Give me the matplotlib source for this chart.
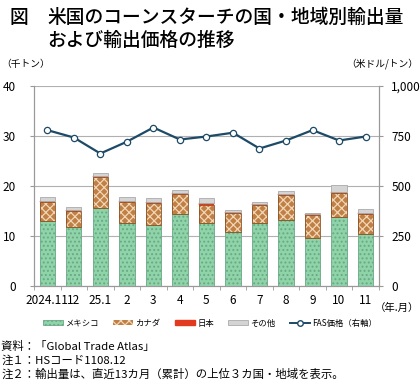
import matplotlib.pyplot as plt
import numpy as np
from matplotlib.lines import Line2D
from matplotlib.patches import Patch

plt.rcParams['font.family'] = ['Noto Sans CJK JP', 'DejaVu Sans']
plt.rcParams['hatch.linewidth'] = 0.9

months = ['2024.11', '12', '25.1', '2', '3', '4', '5', '6', '7', '8', '9', '10', '11']
mexico = [13.1, 11.9, 15.7, 12.7, 12.2, 14.5, 12.7, 10.8, 12.6, 13.3, 9.7, 13.9, 10.4]
canada = [3.8, 3.2, 6.2, 4.2, 4.5, 4.0, 3.6, 3.9, 3.7, 5.0, 4.5, 4.8, 4.1]
japan = [0.1, 0.1, 0.2, 0.1, 0.2, 0.1, 0.3, 0.2, 0.2, 0.2, 0.3, 0.1, 0.1]
other = [0.9, 0.7, 0.5, 0.8, 0.8, 0.7, 1.0, 0.4, 0.4, 0.6, 0.2, 1.5, 0.8]
fas_price = [780, 743, 663, 722, 793, 733, 748, 767, 688, 728, 780, 728, 748]

x = np.arange(len(months))
w = 0.58

fig = plt.figure(figsize=(4.2, 3.81), dpi=100)
ax = fig.add_axes([0.081, 0.249, 0.821, 0.525])
ax2 = ax.twinx()

m = np.array(mexico)
c = np.array(canada)
j = np.array(japan)
o = np.array(other)

ax.bar(x, m, w, color='#8fd3a8', edgecolor='#6aa886', lw=0.6, hatch='....', zorder=3)
# canada: checker look = light hatch on brown, then dark outline on top
ax.bar(x, c, w, bottom=m, color='#c07f45', edgecolor='#f0d6b4', lw=0, hatch='xxxx', zorder=3)
ax.bar(x, c, w, bottom=m, color='none', edgecolor='#8a5022', lw=0.6, zorder=3)
ax.bar(x, j, w, bottom=m + c, color='#e23a1e', edgecolor='#e23a1e', lw=0.3, zorder=3)
ax.bar(x, o, w, bottom=m + c + j, color='#d4d4d4', edgecolor='#aaaaaa', lw=0.6, zorder=3)

ax2.plot(x, fas_price, color='#1d4a66', lw=1.6, marker='o', ms=4.5,
         markerfacecolor='white', markeredgecolor='#1d4a66', markeredgewidth=0.9, zorder=4)

ax.set_xlim(-0.5, len(months) - 0.5)
ax.set_ylim(0, 40)
ax2.set_ylim(0, 1000)
ax.set_yticks([0, 10, 20, 30, 40])
ax2.set_yticks([0, 250, 500, 750, 1000])
ax2.set_yticklabels(['0', '250', '500', '750', '1,000'])
ax.grid(axis='y', color='#b0b0b0', lw=0.8, zorder=0)
ax.set_axisbelow(True)

ax.set_xticks(x)
ax.set_xticklabels(months)
ax.set_xticks(np.arange(len(months) + 1) - 0.5, minor=True)
ax.tick_params(axis='x', which='major', length=0, labelsize=8.5, pad=6)
ax.tick_params(axis='x', which='minor', length=3, color='#999999')
ax.tick_params(axis='y', labelsize=8.5, length=3, color='#999999', pad=10)
ax2.tick_params(axis='y', labelsize=8.5, length=3, color='#999999', pad=6)

for a in (ax, ax2):
    a.spines['top'].set_visible(False)
    for s in ('left', 'right', 'bottom'):
        a.spines[s].set_color('#999999')
        a.spines[s].set_linewidth(0.8)

fig.text(0.022, 0.953, '図', fontsize=13.5, fontweight='medium', va='center')
fig.text(0.113, 0.953, '米国のコーンスターチの国・地域別輸出量', fontsize=13.5, fontweight='medium', va='center')
fig.text(0.113, 0.893, 'および輸出価格の推移', fontsize=13.5, fontweight='medium', va='center')
fig.text(0.003, 0.833, '（千トン）', fontsize=7, va='center')
fig.text(0.997, 0.833, '（米ドル/トン）', fontsize=7, va='center', ha='right')
fig.text(0.997, 0.193, '（年.月）', fontsize=7.5, va='center', ha='right')

handles = [
    Patch(facecolor='#8fd3a8', edgecolor='#6aa886', hatch='....', lw=0.6),
    Patch(facecolor='#c07f45', edgecolor='#f0d6b4', hatch='xxxx', lw=0),
    Patch(facecolor='#e23a1e', edgecolor='#e23a1e'),
    Patch(facecolor='#d4d4d4', edgecolor='#aaaaaa', lw=0.6),
    Line2D([], [], color='#1d4a66', lw=1.4, marker='o', ms=4,
           markerfacecolor='white', markeredgecolor='#1d4a66'),
]
labels = ['メキシコ', 'カナダ', '日本', 'その他', 'FAS価格（右軸）']
fig.legend(handles, labels, loc='center', bbox_to_anchor=(0.5, 0.152), ncol=5,
           frameon=False, fontsize=6, handlelength=2.4, handleheight=0.6,
           columnspacing=1.7, handletextpad=0.3)

fig.text(0.003, 0.09, '資料：「Global Trade Atlas」', fontsize=8.2, va='center')
fig.text(0.003, 0.053, '注１：HSコード1108.12', fontsize=8.2, va='center')
fig.text(0.003, 0.017, '注２：輸出量は、直近13カ月（累計）の上位３カ国・地域を表示。', fontsize=8.2, va='center')

fig.savefig('out.png', dpi=100)
